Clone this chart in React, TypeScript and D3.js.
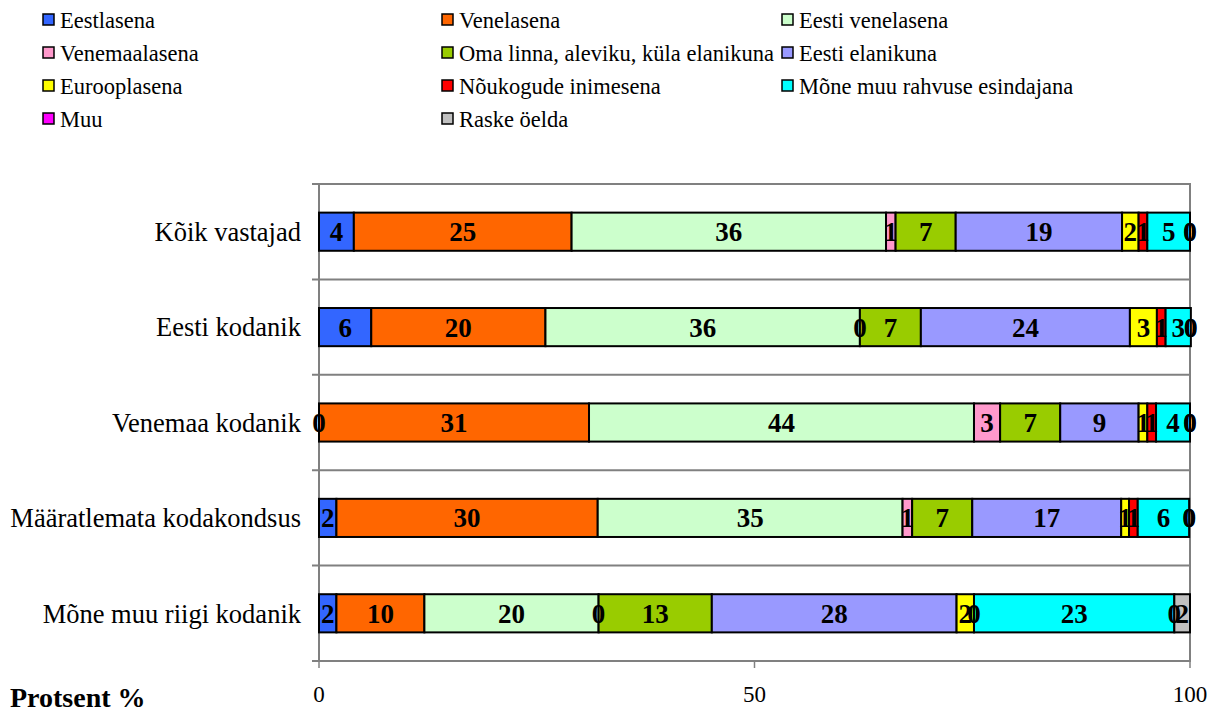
import React from 'react'
import * as d3 from 'd3'

const categories = [
  'Kõik vastajad',
  'Eesti kodanik',
  'Venemaa kodanik',
  'Määratlemata kodakondsus',
  'Mõne muu riigi kodanik',
]

const seriesNames = [
  'Eestlasena',
  'Venelasena',
  'Eesti venelasena',
  'Venemaalasena',
  'Oma linna, aleviku, küla elanikuna',
  'Eesti elanikuna',
  'Eurooplasena',
  'Nõukogude inimesena',
  'Mõne muu rahvuse esindajana',
  'Muu',
  'Raske öelda',
]

const seriesColors = [
  '#3366FF', '#FF6600', '#CCFFCC', '#FF99CC', '#99CC00', '#9999FF',
  '#FFFF00', '#FF0000', '#00FFFF', '#FF00FF', '#C0C0C0',
]

// one value per category, in category order
const eestlasena = [4, 6, 0, 2, 2]
const venelasena = [25, 20, 31, 30, 10.1]
const eestiVenelasena = [36.1, 36.1, 44.2, 35, 20]
const venemaalasena = [1.1, 0, 3, 1.1, 0]
const omaLinna = [6.9, 7, 6.9, 6.9, 13]
const eestiElanikuna = [19.1, 24, 9, 17.1, 28.1]
const eurooplasena = [1.9, 3.1, 1, 0.9, 2]
const noukogude = [1, 1, 1, 1, 0]
const moneMuu = [4.9, 2.9, 3.9, 5.9, 23]
const muu = [0, 0, 0, 0, 0]
const raskeOelda = [0, 0, 0, 0, 1.8]

const seriesValues = [
  eestlasena, venelasena, eestiVenelasena, venemaalasena, omaLinna,
  eestiElanikuna, eurooplasena, noukogude, moneMuu, muu, raskeOelda,
]

const xTicks = [0, 50, 100]

const FONT = 'Liberation Serif, Times New Roman, serif'

const App = () => {
  const svgRef = React.useRef<SVGSVGElement>(null)
  const width = 1211
  const height = 713

  React.useEffect(() => {
    document.body.style.margin = '0'
    const svg = d3.select(svgRef.current)
    svg.selectAll('*').remove()
    svg.attr('font-family', FONT)

    const left = 319
    const right = 1190
    const top = 184
    const bottom = 661

    const x = d3.scaleLinear().domain([0, 100]).range([left, right])
    const y = d3.scaleBand().domain(categories).range([top, bottom]).paddingInner(0.6).paddingOuter(0.3)
    const band = d3.scaleBand().domain(categories).range([top, bottom])

    const rows = categories.map((c, i) => {
      const r: any = { cat: c }
      seriesNames.forEach((s, j) => { r[s] = seriesValues[j][i] })
      return r
    })
    const stacked = d3.stack().keys(seriesNames)(rows)

    // legend
    const legend = svg.append('g').attr('font-size', 22.5)
    const colX = [43, 442, 782]
    seriesNames.forEach((s, i) => {
      const cx = colX[i % 3]
      const cy = 19 + Math.floor(i / 3) * 33
      legend.append('rect')
        .attr('x', cx).attr('y', cy - 5).attr('width', 11).attr('height', 11)
        .attr('fill', seriesColors[i]).attr('stroke', '#000').attr('stroke-width', 1.5)
      legend.append('text')
        .attr('x', cx + 17).attr('y', cy + 1).attr('dy', '0.35em')
        .text(s)
    })

    // frame and gridlines
    const grid = svg.append('g').attr('stroke', '#808080').attr('stroke-width', 2).attr('fill', 'none')
    grid.append('rect').attr('x', left).attr('y', top).attr('width', right - left).attr('height', bottom - top)
    categories.forEach((c) => {
      const yy = band(c)! + band.bandwidth()
      grid.append('line').attr('x1', left - 7).attr('x2', right).attr('y1', yy).attr('y2', yy)
    })
    grid.append('line').attr('x1', left - 7).attr('x2', left).attr('y1', top).attr('y2', top)
    xTicks.forEach((t) => {
      grid.append('line').attr('x1', x(t)).attr('x2', x(t)).attr('y1', bottom).attr('y2', bottom + 7)
        .attr('stroke-width', 1.5)
    })

    // bars
    const layers = svg.append('g').selectAll('g')
      .data(stacked)
      .join('g')
      .attr('fill', (d, i) => seriesColors[i])

    layers.selectAll('rect')
      .data((d) => d)
      .join('rect')
      .attr('x', (d) => x(d[0]))
      .attr('width', (d) => x(d[1]) - x(d[0]))
      .attr('y', (d: any) => y(d.data.cat)!)
      .attr('height', y.bandwidth())
      .attr('stroke', '#000')
      .attr('stroke-width', 2)

    const labels = svg.append('g')
      .attr('font-size', 27)
      .attr('font-weight', 'bold')
      .attr('text-anchor', 'middle')
    stacked.forEach((layer) => {
      layer.forEach((d: any) => {
        labels.append('text')
          .attr('x', (x(d[0]) + x(d[1])) / 2)
          .attr('y', y(d.data.cat)! + y.bandwidth() / 2)
          .attr('dy', '0.35em')
          .text(Math.round(d[1] - d[0]))
      })
    })

    // category labels
    svg.append('g')
      .attr('font-size', 26.5)
      .attr('text-anchor', 'end')
      .selectAll('text')
      .data(categories)
      .join('text')
      .attr('x', 301)
      .attr('y', (d) => band(d)! + band.bandwidth() / 2)
      .attr('dy', '0.35em')
      .text((d) => d)

    // x tick labels
    svg.append('g')
      .attr('font-size', 23)
      .attr('text-anchor', 'middle')
      .selectAll('text')
      .data(xTicks)
      .join('text')
      .attr('x', (d) => x(d))
      .attr('y', 702)
      .text((d) => d)

    svg.append('text')
      .attr('x', 10)
      .attr('y', 707)
      .attr('font-size', 28)
      .attr('font-weight', 'bold')
      .text('Protsent %')
  }, [])

  return <svg ref={svgRef} width={width} height={height} style={{ display: 'block', background: '#fff' }} />
}

export default App
